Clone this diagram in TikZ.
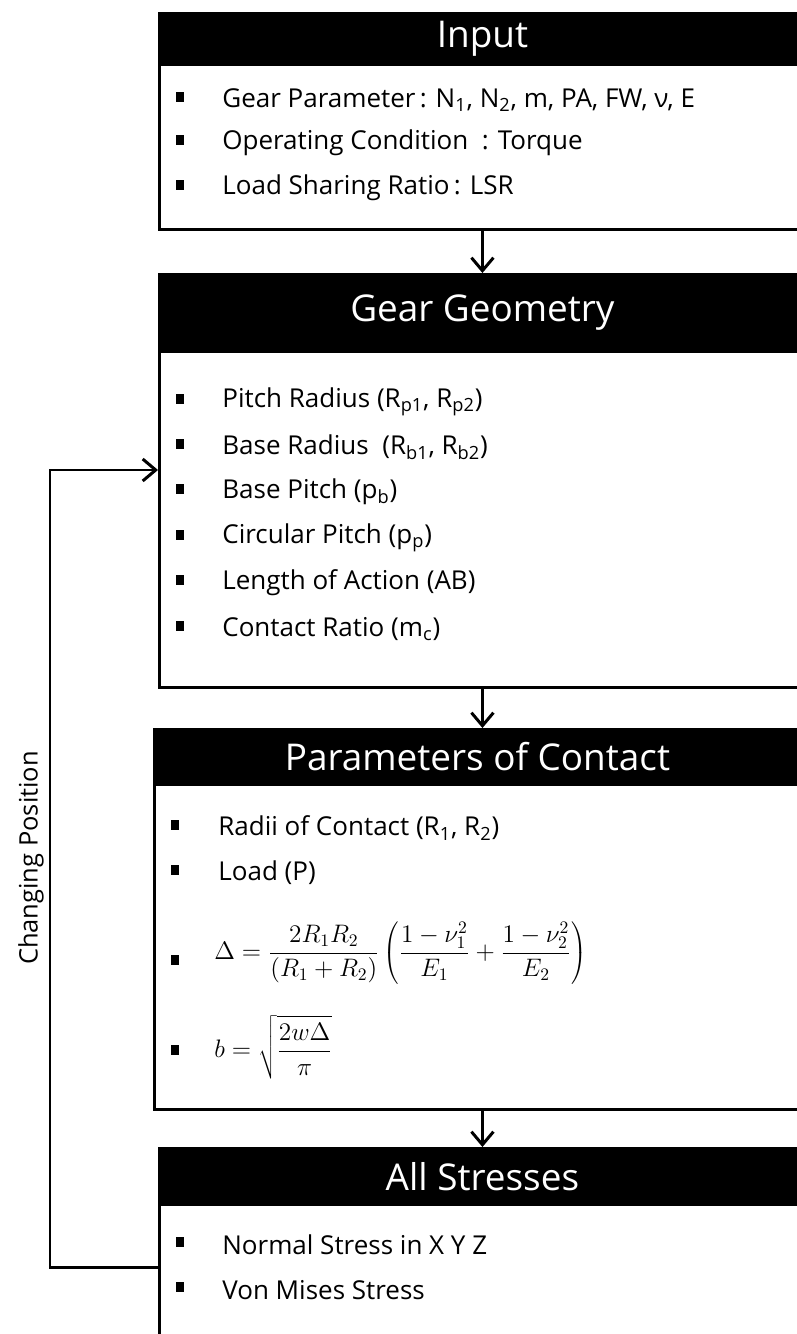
\documentclass[tikz,border=0pt]{standalone}
\usepackage{fontspec}
\setmainfont{Open Sans}
\usetikzlibrary{arrows.meta}
\begin{document}
\begin{tikzpicture}[x=0.02cm,y=-0.02cm,
    boxbody/.style={rectangle,draw=black,line width=1.7pt,fill=white,anchor=north west,
      minimum width=12.92cm,inner sep=0pt},
    boxhead/.style={rectangle,draw=black,line width=1.7pt,fill=black,text=white,anchor=north west,
      minimum width=12.92cm,inner sep=0pt,font=\fontsize{21}{25}\selectfont},
    item/.style={anchor=west,inner sep=0pt,font=\fontsize{14.8}{17}\selectfont},
    bullet/.style={rectangle,fill=black,minimum width=0.17cm,minimum height=0.19cm,inner sep=0pt},
    flow/.style={-{Straight Barb[length=2.6mm,width=4.4mm]},line width=1.7pt},
    looplabel/.style={rotate=90,font=\fontsize{14.5}{17}\selectfont}
  ]
    \useasboundingbox (0,0) rectangle (797,1334);
    \clip (0,0) rectangle (797,1334);

    \node[boxbody,minimum height=4.32cm] (inbox) at (158,12) {};
    \node[boxhead,minimum height=1.02cm] (inhead) at (158,12) {Input};
    \node[bullet] (inb1) at (180,97) {};
    \node[item] (init1) at (222,100) {Gear Parameter\,: N\textsubscript{1}, N\textsubscript{2}, m, PA, FW, ν, E};
    \node[bullet] (inb2) at (180,140) {};
    \node[item] (init2) at (222,143) {Operating Condition\ \ : Torque};
    \node[bullet] (inb3) at (180,185) {};
    \node[item] (init3) at (222,188) {Load Sharing Ratio\,: LSR};

    \node[boxbody,minimum height=8.26cm] (geobox) at (158,273) {};
    \node[boxhead,minimum height=1.54cm] (geohead) at (158,273) {Gear Geometry};
    \node[bullet] (geob1) at (180,399) {};
    \node[item] (geoit1) at (222,402) {Pitch Radius (R\textsubscript{p1}, R\textsubscript{p2})};
    \node[bullet] (geob2) at (180,444) {};
    \node[item] (geoit2) at (222,447) {Base Radius\ \ (R\textsubscript{b1}, R\textsubscript{b2})};
    \node[bullet] (geob3) at (180,489) {};
    \node[item] (geoit3) at (222,492) {Base Pitch (p\textsubscript{b})};
    \node[bullet] (geob4) at (180,535) {};
    \node[item] (geoit4) at (222,538) {Circular Pitch (p\textsubscript{p})};
    \node[bullet] (geob5) at (180,580) {};
    \node[item] (geoit5) at (222,583) {Length of Action (AB)};
    \node[bullet] (geob6) at (180,626) {};
    \node[item] (geoit6) at (222,629) {Contact Ratio (m\textsubscript{c})};

    \node[boxbody,minimum height=7.6cm] (conbox) at (153,728) {};
    \node[boxhead,minimum height=1.1cm] (conhead) at (153,728) {Parameters of Contact};
    \node[bullet] (conb1) at (175,825) {};
    \node[item] (conit1) at (218,828) {Radii of Contact (R\textsubscript{1}, R\textsubscript{2})};
    \node[bullet] (conb2) at (175,870) {};
    \node[item] (conit2) at (218,873) {Load (P)};
    \node[bullet] (conb3) at (175,960) {};
    \node[item,font=\fontsize{14.5}{17}\selectfont] (conit3) at (214,953)
      {$\displaystyle \Delta=\frac{2R_1R_2}{(R_1+R_2)}\left(\frac{1-\nu_1^2}{E_1}+\frac{1-\nu_2^2}{E_2}\right)$};
    \node[bullet] (conb4) at (175,1050) {};
    \node[item,font=\fontsize{14.5}{17}\selectfont] (conit4) at (214,1047)
      {$\displaystyle b=\sqrt{\frac{2w\Delta}{\pi}}$};

    \node[boxbody,minimum height=5cm] (strbox) at (158,1147) {};
    \node[boxhead,minimum height=1.12cm] (strhead) at (158,1147) {All Stresses};
    \node[bullet] (strb1) at (180,1242) {};
    \node[item] (strit1) at (222,1245) {Normal Stress in X Y Z};
    \node[bullet] (strb2) at (180,1287) {};
    \node[item] (strit2) at (222,1290) {Von Mises Stress};

    \draw[flow] (inbox.south) -- (geobox.north);
    \draw[flow] (geobox.south) -- (geobox.south |- conbox.north);
    \draw[flow] (geobox.south |- conbox.south) -- (strbox.north);

    \coordinate (turnlow) at (50,1267);
    \coordinate (turnhigh) at (50,470);
    \draw[flow] (strbox.west |- turnlow) -- (turnlow) -- (turnhigh) -- (geobox.west |- turnhigh);
    \node[looplabel] (looptxt) at (31,858) {Changing Position};
  \end{tikzpicture}
\end{document}
